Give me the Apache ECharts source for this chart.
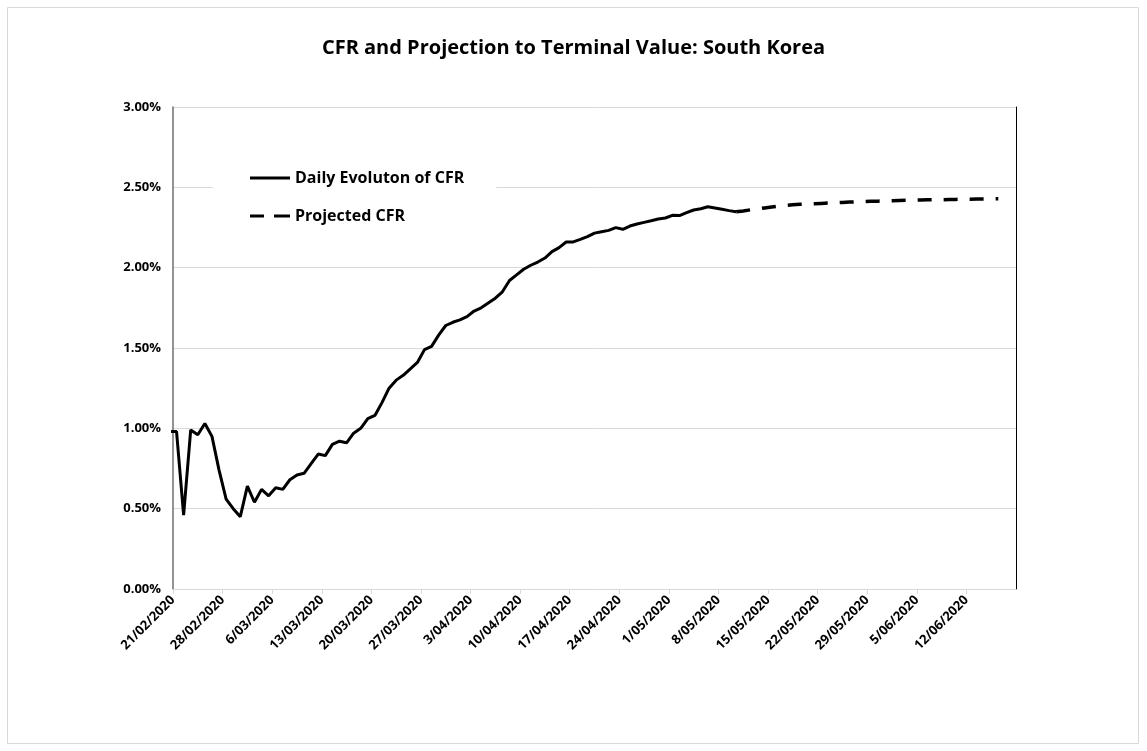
<!DOCTYPE html>
<html>
<head>
<meta charset="utf-8">
<script src="https://cdn.jsdelivr.net/npm/echarts@6/dist/echarts.min.js"></script>
<style>
  html, body { margin: 0; padding: 0; background: #fff; }
  #chart { width: 1147px; height: 751px; }
</style>
</head>
<body>
<div id="chart"></div>
<script>
// x axis runs from 21/02/2020 for 119 days, a tick every week
const DAY = 86400000;
const axisStart = Date.UTC(2020, 1, 21);
const axisDays = 119;
const tickDays = 7;

// daily CFR (%), first value is 20/02/2020
const cfrStart = Date.UTC(2020, 1, 20);
const cfrDaily = [
  0.98, 0.98, 0.46, 0.99, 0.96, 1.03, 0.95, 0.74, 0.56, 0.50,
  0.45, 0.64, 0.54, 0.62, 0.58, 0.63, 0.62, 0.68, 0.71, 0.72,
  0.78, 0.84, 0.83, 0.90, 0.92, 0.91, 0.97, 1.00, 1.06, 1.08,
  1.16, 1.25, 1.30, 1.33, 1.37, 1.41, 1.49, 1.51, 1.58, 1.64,
  1.66, 1.675, 1.695, 1.73, 1.75, 1.78, 1.81, 1.85, 1.92, 1.955,
  1.99, 2.015, 2.035, 2.06, 2.10, 2.125, 2.16, 2.16, 2.176, 2.193,
  2.215, 2.224, 2.232, 2.249, 2.239, 2.259, 2.272, 2.282, 2.292, 2.303,
  2.309, 2.326, 2.324, 2.342, 2.359, 2.367, 2.379, 2.371, 2.363, 2.355,
  2.348
];

// projected CFR (%), from 10/05/2020
const projStart = Date.UTC(2020, 4, 10);
const projectedCfr = [
  2.348, 2.353, 2.360, 2.366, 2.372, 2.378, 2.383, 2.387, 2.391, 2.394,
  2.396, 2.398, 2.400, 2.402, 2.404, 2.406, 2.408, 2.410, 2.411, 2.413,
  2.414, 2.416, 2.417, 2.418, 2.419, 2.420, 2.421, 2.422, 2.423, 2.423,
  2.424, 2.425, 2.426, 2.426, 2.427, 2.428, 2.429, 2.429
];

const seriesNames = ["Daily Evoluton of CFR", "Projected CFR"];

function toPoints(start, values) {
  const offset = (start - axisStart) / DAY;
  // points sit in the middle of their day
  return values.map((v, i) => [offset + i + 0.5, v]);
}

function dateLabel(day) {
  const d = new Date(axisStart + day * DAY);
  const mm = String(d.getUTCMonth() + 1).padStart(2, "0");
  return d.getUTCDate() + "/" + mm + "/" + d.getUTCFullYear();
}

const font = "'Open Sans', 'Noto Sans', sans-serif";
// legend samples: a solid bar and a long-dash bar
const solidIcon = "path://M0,0H40V3H0Z";
const dashIcon = "path://M0,0H14V3H0ZM24,0H40V3H24Z";

const chart = echarts.init(document.getElementById("chart"));
const option = {
  backgroundColor: "#fff",
  animation: false,
  title: {
    text: "CFR and Projection to Terminal Value: South Korea",
    left: "center",
    top: 33,
    textStyle: { fontFamily: font, fontWeight: "bold", fontSize: 20, color: "#000" }
  },
  graphic: [{
    type: "rect",
    shape: { x: 7.5, y: 7.5, width: 1131, height: 736 },
    style: { fill: "none", stroke: "#d9d9d9", lineWidth: 1 },
    silent: true
  }],
  legend: {
    orient: "vertical",
    left: 213,
    top: 152,
    padding: [18, 32, 18, 37],
    backgroundColor: "#fff",
    itemWidth: 40,
    itemHeight: 3,
    itemGap: 22,
    textStyle: { fontFamily: font, fontWeight: "bold", fontSize: 16, color: "#000" },
    data: [
      { name: seriesNames[0], icon: solidIcon },
      { name: seriesNames[1], icon: dashIcon }
    ]
  },
  grid: { left: 173, right: 131, top: 107, bottom: 162 },
  xAxis: {
    type: "value",
    min: 0,
    max: axisDays,
    interval: tickDays,
    splitLine: { show: false },
    axisLine: { lineStyle: { color: "#d9d9d9", width: 1 } },
    axisTick: { show: true, length: 5, lineStyle: { color: "#d9d9d9" } },
    axisLabel: {
      rotate: 45,
      margin: 9,
      showMaxLabel: false,
      fontFamily: font,
      fontWeight: "bold",
      fontSize: 13,
      color: "#000",
      formatter: v => (v >= axisDays ? "" : dateLabel(v))
    }
  },
  yAxis: [{
    type: "value",
    min: 0,
    max: 3,
    interval: 0.5,
    axisLine: { show: true, lineStyle: { color: "#6f6f6f", width: 1.5 } },
    axisTick: { show: false },
    splitLine: { lineStyle: { color: "#d9d9d9", width: 1 } },
    axisLabel: {
      margin: 12,
      fontFamily: font,
      fontWeight: "bold",
      fontSize: 13,
      color: "#000",
      formatter: v => v.toFixed(2) + "%"
    }
  }, {
    type: "value",
    position: "right",
    min: 0,
    max: 3,
    interval: 0.5,
    axisLine: { show: true, lineStyle: { color: "#000", width: 1 } },
    axisTick: { show: false },
    axisLabel: { show: false },
    splitLine: { show: false }
  }],
  series: [{
    name: seriesNames[0],
    type: "line",
    yAxisIndex: 0,
    symbol: "none",
    clip: true,
    lineStyle: { color: "#000", width: 3 },
    itemStyle: { color: "#000" },
    data: toPoints(cfrStart, cfrDaily)
  }, {
    name: seriesNames[1],
    type: "line",
    yAxisIndex: 0,
    symbol: "none",
    clip: true,
    lineStyle: { color: "#000", width: 3.5, type: [14, 12] },
    itemStyle: { color: "#000" },
    data: toPoints(projStart, projectedCfr)
  }]
};
chart.setOption(option);
window.addEventListener("resize", () => chart.resize());
</script>
</body>
</html>
